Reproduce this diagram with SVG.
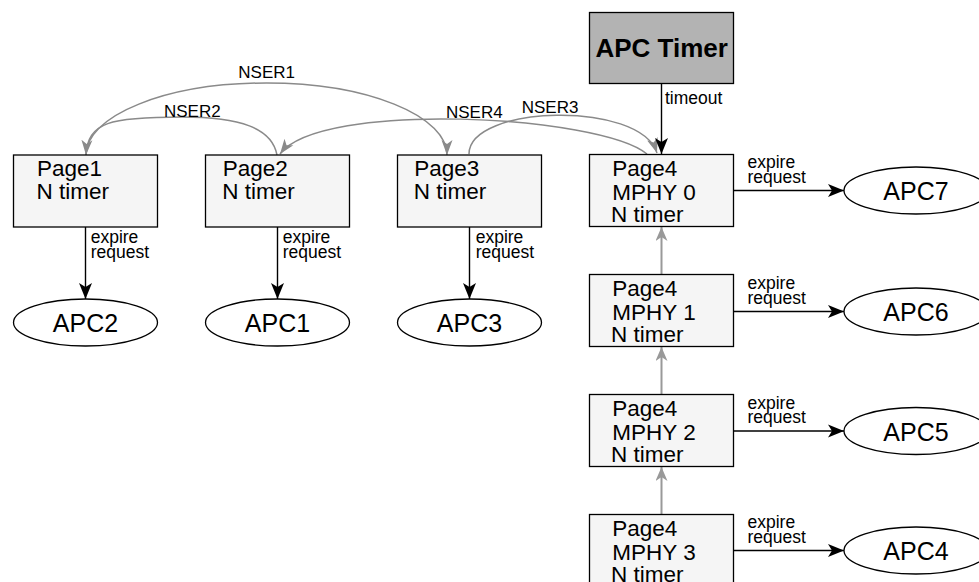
<svg xmlns="http://www.w3.org/2000/svg" width="979" height="582" viewBox="0 0 979 582">
<style>
.box{fill:#f5f5f5;stroke:#000;stroke-width:1.3}
.tbox{fill:#b3b3b3;stroke:#000;stroke-width:1.3}
.ell{fill:#fff;stroke:#000;stroke-width:1.3}
.t{font-family:"Liberation Sans",Arial,sans-serif;font-size:22.5px;fill:#000}
.apc{font-family:"Liberation Sans",Arial,sans-serif;font-size:25px;fill:#000;text-anchor:middle}
.lbl{font-family:"Liberation Sans",Arial,sans-serif;font-size:17.5px;fill:#000}
.ns{font-family:"Liberation Sans",Arial,sans-serif;font-size:17px;fill:#000}
.blk{fill:none;stroke:#000;stroke-width:1.4;marker-end:url(#ab)}
.gry{fill:none;stroke:#8a8a8a;stroke-width:1.5;marker-end:url(#ag)}
.gv{fill:none;stroke:#999;stroke-width:2;marker-end:url(#ag2)}
</style>
<defs>
<marker id="ab" markerUnits="userSpaceOnUse" markerWidth="18" markerHeight="14" refX="16" refY="7" orient="auto"><path d="M0,0.5 L16,7 L0,13.5 L4,7 z" fill="#000"/></marker>
<marker id="ag" markerUnits="userSpaceOnUse" markerWidth="17" markerHeight="13" refX="15" refY="6" orient="auto"><path d="M0,0.5 L15,6 L0,11.5 L4,6 z" fill="#8a8a8a"/></marker>
<marker id="ag2" markerUnits="userSpaceOnUse" markerWidth="17" markerHeight="13" refX="14" refY="6" orient="auto"><path d="M0,0 L14,6 L0,12 L4,6 z" fill="#999"/></marker>
</defs>

<g id="connectors">
<path class="gry" d="M86,155 A180.5 72 0 0 1 447,155"/>
<path class="gry" d="M277,155 C272,128 240,117 182,117 C110,117 88,122 86,155"/>
<path class="gry" d="M647,154 C600,115 320,100 280,154"/>
<path class="gry" d="M469,154 C469,105 640,100 657,153"/>
<path class="blk" d="M661.5,83.5 L661.5,154"/>
<path class="blk" d="M85.5,227 L85.5,299"/>
<path class="blk" d="M277.5,227 L277.5,299"/>
<path class="blk" d="M469.5,227 L469.5,299"/>
<path class="blk" d="M733.5,190.5 L844,190.5"/>
<path class="blk" d="M733.5,311.5 L844,311.5"/>
<path class="blk" d="M733.5,431 L844,431"/>
<path class="blk" d="M733.5,550.5 L844,550.5"/>
<path class="gv" d="M661.5,274.5 L661.5,227"/>
<path class="gv" d="M661.5,394.5 L661.5,347"/>
<path class="gv" d="M661.5,514.5 L661.5,467"/>
<text class="ns" x="238.3" y="78.3">NSER1</text>
<text class="ns" x="164" y="116.7">NSER2</text>
<text class="ns" x="446" y="118.3">NSER4</text>
<text class="ns" x="521.7" y="113">NSER3</text>
<text class="lbl" x="665" y="103.5">timeout</text>
<text class="lbl" x="90.7" y="243.3">expire</text>
<text class="lbl" x="90.7" y="257.5">request</text>
<text class="lbl" x="282.7" y="243.3">expire</text>
<text class="lbl" x="282.7" y="257.5">request</text>
<text class="lbl" x="475.7" y="243.3">expire</text>
<text class="lbl" x="475.7" y="257.5">request</text>
<text class="lbl" x="747.5" y="168">expire</text>
<text class="lbl" x="747.5" y="182.5">request</text>
<text class="lbl" x="747.5" y="289">expire</text>
<text class="lbl" x="747.5" y="303.5">request</text>
<text class="lbl" x="747.5" y="408.5">expire</text>
<text class="lbl" x="747.5" y="423">request</text>
<text class="lbl" x="747.5" y="528">expire</text>
<text class="lbl" x="747.5" y="542.5">request</text>
</g>

<g id="apc-timer">
<rect class="tbox" x="589.5" y="12.5" width="144" height="71"/>
<text x="661.7" y="56.7" font-family="'Liberation Sans',Arial,sans-serif" font-size="26" font-weight="bold" text-anchor="middle">APC Timer</text>
</g>

<g id="page1">
<rect class="box" x="13.5" y="155" width="144" height="72"/>
<text class="t" x="37" y="175.7">Page1</text>
<text class="t" x="36.5" y="199.3">N timer</text>
</g>
<g id="page2">
<rect class="box" x="205.5" y="155" width="144" height="72"/>
<text class="t" x="222.7" y="175.7">Page2</text>
<text class="t" x="222.2" y="199.3">N timer</text>
</g>
<g id="page3">
<rect class="box" x="397.5" y="155" width="144" height="72"/>
<text class="t" x="414.3" y="175.7">Page3</text>
<text class="t" x="413.8" y="199.3">N timer</text>
</g>
<g id="page4-mphy0">
<rect class="box" x="589.5" y="154.5" width="144" height="72"/>
<text class="t" x="612.3" y="176">Page4</text>
<text class="t" x="612.3" y="200">MPHY 0</text>
<text class="t" x="611" y="221.5">N timer</text>
</g>
<g id="page4-mphy1">
<rect class="box" x="589.5" y="274.5" width="144" height="72"/>
<text class="t" x="612.3" y="296">Page4</text>
<text class="t" x="612.3" y="320">MPHY 1</text>
<text class="t" x="611" y="341.5">N timer</text>
</g>
<g id="page4-mphy2">
<rect class="box" x="589.5" y="394.5" width="144" height="72"/>
<text class="t" x="612.3" y="416">Page4</text>
<text class="t" x="612.3" y="440">MPHY 2</text>
<text class="t" x="611" y="461.5">N timer</text>
</g>
<g id="page4-mphy3">
<rect class="box" x="589.5" y="514.5" width="144" height="72"/>
<text class="t" x="612.3" y="536">Page4</text>
<text class="t" x="612.3" y="560">MPHY 3</text>
<text class="t" x="611" y="581.5">N timer</text>
</g>

<g id="apc2"><ellipse class="ell" cx="85.5" cy="322.5" rx="72" ry="23.5"/><text class="apc" x="85.5" y="331.5">APC2</text></g>
<g id="apc1"><ellipse class="ell" cx="277.5" cy="322.5" rx="72" ry="23.5"/><text class="apc" x="277.5" y="331.5">APC1</text></g>
<g id="apc3"><ellipse class="ell" cx="469.5" cy="322.5" rx="72" ry="23.5"/><text class="apc" x="469.5" y="331.5">APC3</text></g>
<g id="apc7"><ellipse class="ell" cx="916" cy="190.5" rx="72" ry="23.5"/><text class="apc" x="916" y="200">APC7</text></g>
<g id="apc6"><ellipse class="ell" cx="916" cy="311.5" rx="72" ry="23.5"/><text class="apc" x="916" y="321">APC6</text></g>
<g id="apc5"><ellipse class="ell" cx="916" cy="431" rx="72" ry="23.5"/><text class="apc" x="916" y="440.5">APC5</text></g>
<g id="apc4"><ellipse class="ell" cx="916" cy="550.5" rx="72" ry="23.5"/><text class="apc" x="916" y="560">APC4</text></g>
</svg>
